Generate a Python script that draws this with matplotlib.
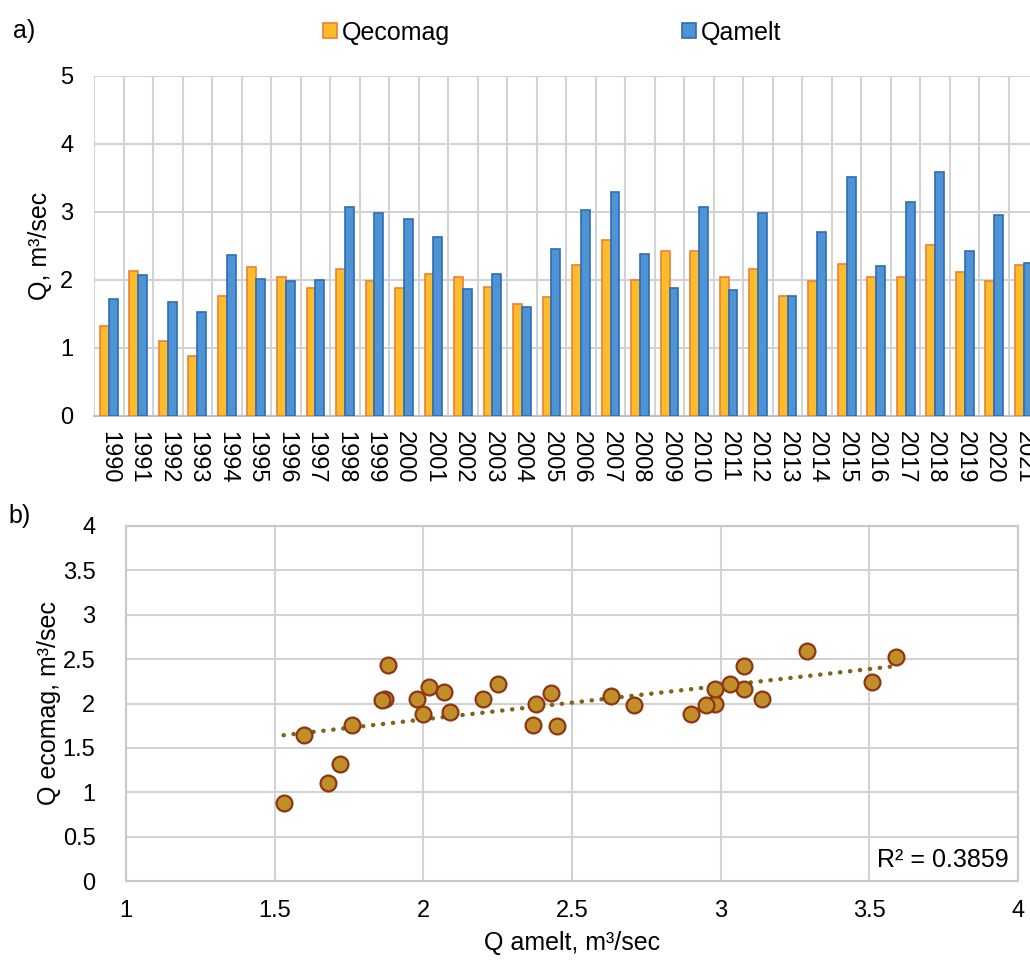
import numpy as np
import matplotlib
matplotlib.use("Agg")
import matplotlib.pyplot as plt
from matplotlib.patches import Patch

plt.rcParams['font.family'] = ['Liberation Sans', 'DejaVu Sans']

# Данные: годы и расходы
years = [str(y) for y in range(1990, 2022)]
q_ecomag = [1.32, 2.13, 1.10, 0.88, 1.76, 2.19, 2.05, 1.88, 2.16, 1.99,
            1.88, 2.09, 2.05, 1.90, 1.65, 1.75, 2.22, 2.59, 2.00, 2.43,
            2.42, 2.04, 2.16, 1.76, 1.98, 2.24, 2.05, 2.05, 2.52, 2.12,
            1.98, 2.22]
q_amelt = [1.72, 2.07, 1.68, 1.53, 2.37, 2.02, 1.98, 2.00, 3.08, 2.98,
           2.90, 2.63, 1.87, 2.09, 1.60, 2.45, 3.03, 3.29, 2.38, 1.88,
           3.08, 1.86, 2.98, 1.76, 2.71, 3.51, 2.20, 3.14, 3.59, 2.43,
           2.95, 2.25]
r2_text = "R² = 0.3859"

grid_c = '#D3D3D3'
orange_fill, orange_edge = '#FBBD2B', '#F07F32'
blue_fill, blue_edge = '#4E93D3', '#2D6DB8'

fig = plt.figure(figsize=(10.3, 9.6), dpi=100)

# ---- a) столбчатая диаграмма
ax1 = fig.add_axes([94 / 1030, 1 - 416 / 960, (1038.5 - 94) / 1030, 340 / 960])
x = np.arange(len(years))
w = 0.3
ax1.bar(x - w / 2, q_ecomag, w, color=orange_fill, edgecolor=orange_edge, linewidth=1.2, zorder=3)
ax1.bar(x + w / 2, q_amelt, w, color=blue_fill, edgecolor=blue_edge, linewidth=1.2, zorder=3)
ax1.set_xlim(-0.5, len(years) - 0.5)
ax1.set_ylim(0, 5)
ax1.set_yticks(range(0, 6))
ax1.set_xticks(x)
ax1.set_xticklabels(years, rotation=270, fontsize=17)
ax1.set_xticks(np.arange(-0.5, len(years), 1), minor=True)
ax1.tick_params(axis='both', which='both', length=0, labelsize=17)
ax1.tick_params(axis='x', pad=11)
ax1.tick_params(axis='y', pad=15)
ax1.grid(True, which='minor', axis='x', color=grid_c, linewidth=1.5, zorder=0)
ax1.grid(True, which='major', axis='y', color=grid_c, linewidth=1.5, zorder=0)
for s in ['top', 'right', 'left']:
    ax1.spines[s].set_visible(False)
ax1.spines['bottom'].set_color('#BFBFBF')
ax1.spines['bottom'].set_linewidth(1.5)
ax1.set_ylabel('Q, m³/sec', fontsize=18, labelpad=6)

handles = [Patch(facecolor=orange_fill, edgecolor=orange_edge, linewidth=1.2),
           Patch(facecolor=blue_fill, edgecolor=blue_edge, linewidth=1.2)]
fig.legend(handles, ['Qecomag', 'Qamelt'], loc='center', bbox_to_anchor=(0.536, 0.966),
           ncol=2, frameon=False, fontsize=18, handlelength=0.55, handleheight=0.55,
           handletextpad=0.2, columnspacing=9.3, borderpad=0.2)
fig.text(0.013, 0.968, 'a)', fontsize=18, va='center')

# ---- b) диаграмма рассеяния
ax2 = fig.add_axes([126 / 1030, 1 - 881 / 960, 892 / 1030, 355 / 960])
ax2.scatter(q_amelt, q_ecomag, s=130, color='#C18F27', edgecolor='#8E3515', linewidth=1.6, zorder=4)
k, b = np.polyfit(q_amelt, q_ecomag, 1)
xt = np.array([min(q_amelt), max(q_amelt)])
ax2.plot(xt, k * xt + b, color='#7C6419', linewidth=3.2, linestyle=(0, (0.05, 2.2)),
         dash_capstyle='round', solid_capstyle='round', zorder=3)
ax2.set_xlim(1, 4)
ax2.set_ylim(0, 4)
ax2.set_xticks(np.arange(1, 4.01, 0.5))
ax2.set_yticks(np.arange(0, 4.01, 0.5))
ax2.set_xticklabels(['1', '1.5', '2', '2.5', '3', '3.5', '4'])
ax2.set_yticklabels(['0', '0.5', '1', '1.5', '2', '2.5', '3', '3.5', '4'])
ax2.tick_params(axis='both', length=0, labelsize=17)
ax2.tick_params(axis='x', pad=14)
ax2.tick_params(axis='y', pad=22)
ax2.grid(True, color=grid_c, linewidth=1.5, zorder=0)
for s in ax2.spines.values():
    s.set_color('#C8C8C8')
    s.set_linewidth(1.5)
ax2.set_xlabel('Q amelt, m³/sec', fontsize=18, labelpad=6)
ax2.set_ylabel('Q ecomag, m³/sec', fontsize=18, labelpad=1)
ax2.text(0.99, 0.06, r2_text, transform=ax2.transAxes, ha='right', va='center', fontsize=18)
fig.text(0.008, 0.462, 'b)', fontsize=18, va='center')

fig.savefig('out.png', dpi=100)
